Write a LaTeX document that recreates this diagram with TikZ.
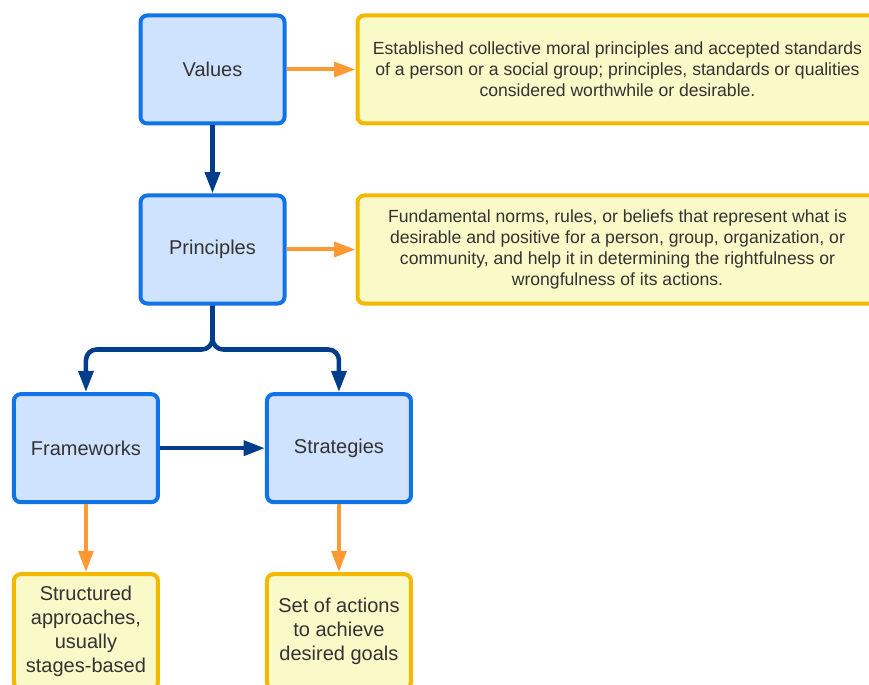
\documentclass[tikz,border=0pt]{standalone}
\usepackage{fontspec}
\setmainfont{Liberation Sans}
\usetikzlibrary{positioning}
\usetikzlibrary{arrows.meta}

\definecolor{boxblue}{HTML}{1273E6}
\definecolor{fillblue}{HTML}{CFE3FF}
\definecolor{arrblue}{HTML}{003D8A}
\definecolor{arrorange}{HTML}{FF9933}
\definecolor{boxgold}{HTML}{F2B900}
\definecolor{fillyellow}{HTML}{FAF9C8}
\definecolor{txtgray}{HTML}{333333}

\begin{document}
\begin{tikzpicture}[
    x=0.75pt,y=-0.75pt,
    concept/.style={rectangle,rounded corners=5pt,draw=boxblue,fill=fillblue,line width=3pt,
      minimum width=108pt,minimum height=81pt,text=txtgray,font=\fontsize{15}{18}\selectfont},
    defn/.style={rectangle,rounded corners=5pt,draw=boxgold,fill=fillyellow,line width=3pt,
      minimum width=390pt,minimum height=81pt,text=txtgray,align=center,
      font=\fontsize{13.2}{15.75}\selectfont},
    note/.style={rectangle,rounded corners=5pt,draw=boxgold,fill=fillyellow,line width=3pt,
      minimum width=108pt,minimum height=86pt,inner sep=2pt,text=txtgray,align=center,
      font=\fontsize{15}{18}\selectfont},
    darr/.style={draw=arrblue,line width=3.4pt,-{Triangle[width=11pt,length=16pt]}},
    oarr/.style={draw=arrorange,line width=3pt,-{Triangle[width=11pt,length=16pt]}}
    ]
    \useasboundingbox (0,0) rectangle (869,685);
    \clip (0,0) rectangle (869,685);
    \node (values) [concept] at (212.5,69.5) {Values};
    \node (principles) [concept,below=51pt of values] {Principles};
    \node (frame) [concept,below=65pt of principles,xshift=-94.9pt] {Frameworks};
    \node (strat) [concept,right=78.75pt of frame] {Strategies};
    \node (valdef) [defn,right=51.75pt of values] {Established collective moral principles and accepted standards\\
      of a person or a social group; principles, standards or qualities\\
      considered worthwhile or desirable.};
    \node (prindef) [defn,right=51.75pt of principles] {Fundamental norms, rules, or beliefs that represent what is\\
      desirable and positive for a person, group, organization, or\\
      community, and help it in determining the rightfulness or\\
      wrongfulness of its actions.};
    \node (framedef) [note,below=51pt of frame] {Structured\\approaches,\\usually\\stages-based};
    \node (stratdef) [note,below=51pt of strat] {Set of actions\\to achieve\\desired goals};
    \draw[darr] (values) -- (principles);
    \draw[darr,rounded corners=8pt] (principles.south) -- ++(0,44) -| (frame.north);
    \draw[darr,rounded corners=8pt] (principles.south) -- ++(0,44) -| (strat.north);
    \draw[darr] (frame) -- (strat);
    \draw[oarr] (values) -- (valdef);
    \draw[oarr] (principles) -- (prindef);
    \draw[oarr] (frame) -- (framedef);
    \draw[oarr] (strat) -- (stratdef);
  \end{tikzpicture}
\end{document}
